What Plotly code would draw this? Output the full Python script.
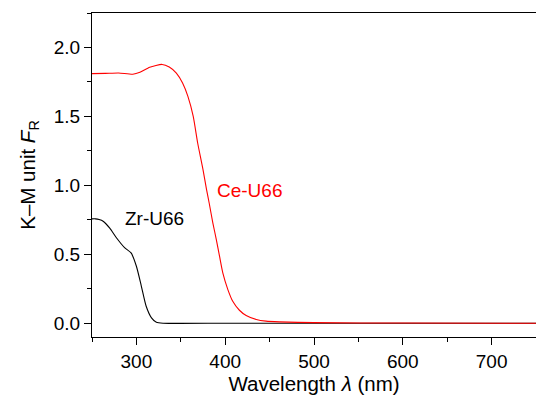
import plotly.graph_objects as go

# Ce-U66 (red) Kubelka-Munk spectrum
ce_wl = [250, 265, 280, 296, 304, 315, 329, 337, 345, 352, 358, 364, 369, 375, 379,
         382, 386, 390, 393.6, 397.3, 403, 408.5, 416, 423.6, 435, 446, 461, 500, 600, 750]
ce_fr = [1.81, 1.812, 1.815, 1.806, 1.82, 1.857, 1.877, 1.858, 1.814, 1.742, 1.645, 1.50,
         1.307, 1.114, 0.969, 0.87, 0.73, 0.607, 0.486, 0.365, 0.244, 0.159, 0.094, 0.056,
         0.027, 0.015, 0.010, 0.004, 0.001, 0.0]

# Zr-U66 (black) Kubelka-Munk spectrum
zr_wl = [250, 254, 258, 262.5, 270, 277.5, 287, 294, 300, 305.6, 311, 317, 322.5, 330,
         400, 500, 600, 750]
zr_fr = [0.757, 0.757, 0.752, 0.74, 0.69, 0.62, 0.546, 0.51, 0.413, 0.268, 0.123, 0.039,
         0.007, 0.0, 0.0, 0.0, 0.0, 0.0]

labels = ["Zr-U66", "Ce-U66"]
label_x = [284.5, 388]
label_y = [0.76, 0.965]
label_colors = ["#000000", "#ff0000"]

FONT = "Liberation Sans, Arial, sans-serif"

fig = go.Figure()
fig.add_trace(go.Scatter(x=zr_wl, y=zr_fr, mode="lines",
                         line=dict(color="#000000", width=1.1, shape="spline", smoothing=0.6),
                         showlegend=False))
fig.add_trace(go.Scatter(x=ce_wl, y=ce_fr, mode="lines",
                         line=dict(color="#ff0000", width=1.1, shape="spline", smoothing=0.6),
                         showlegend=False))

for t, x, y, c in zip(labels, label_x, label_y, label_colors):
    fig.add_annotation(x=x, y=y, text=t, showarrow=False, xanchor="left", yanchor="middle",
                       font=dict(family=FONT, size=19, color=c))

axis_common = dict(
    showline=True, linecolor="#000000", linewidth=1.2,
    showgrid=False, zeroline=False,
    ticks="outside", ticklen=7, tickwidth=1.2, tickcolor="#000000",
    tickfont=dict(family=FONT, size=19, color="#000000"),
)

fig.update_xaxes(range=[250, 750], tick0=300, dtick=100, mirror=True,
                 minor=dict(tick0=250, dtick=50, ticks="outside", ticklen=4,
                            tickwidth=1.2, tickcolor="#000000"),
                 title=dict(text="Wavelength <i>λ</i> (nm)", standoff=3,
                            font=dict(family=FONT, size=20.5, color="#000000")),
                 **axis_common)
fig.update_yaxes(range=[-0.1, 2.25], tick0=0, dtick=0.5, tickformat=".1f",
                 minor=dict(tick0=0, dtick=0.25, ticks="outside", ticklen=4,
                            tickwidth=1.2, tickcolor="#000000"),
                 title=dict(text="K–M unit <i>F</i><sub>R</sub>", standoff=12,
                            font=dict(family=FONT, size=20.5, color="#000000")),
                 **axis_common)

fig.update_layout(
    width=536, height=401,
    margin=dict(l=92, r=0, t=13, b=64, autoexpand=False),
    plot_bgcolor="#ffffff", paper_bgcolor="#ffffff",
    font=dict(family=FONT),
)

fig.write_html("out.html")
